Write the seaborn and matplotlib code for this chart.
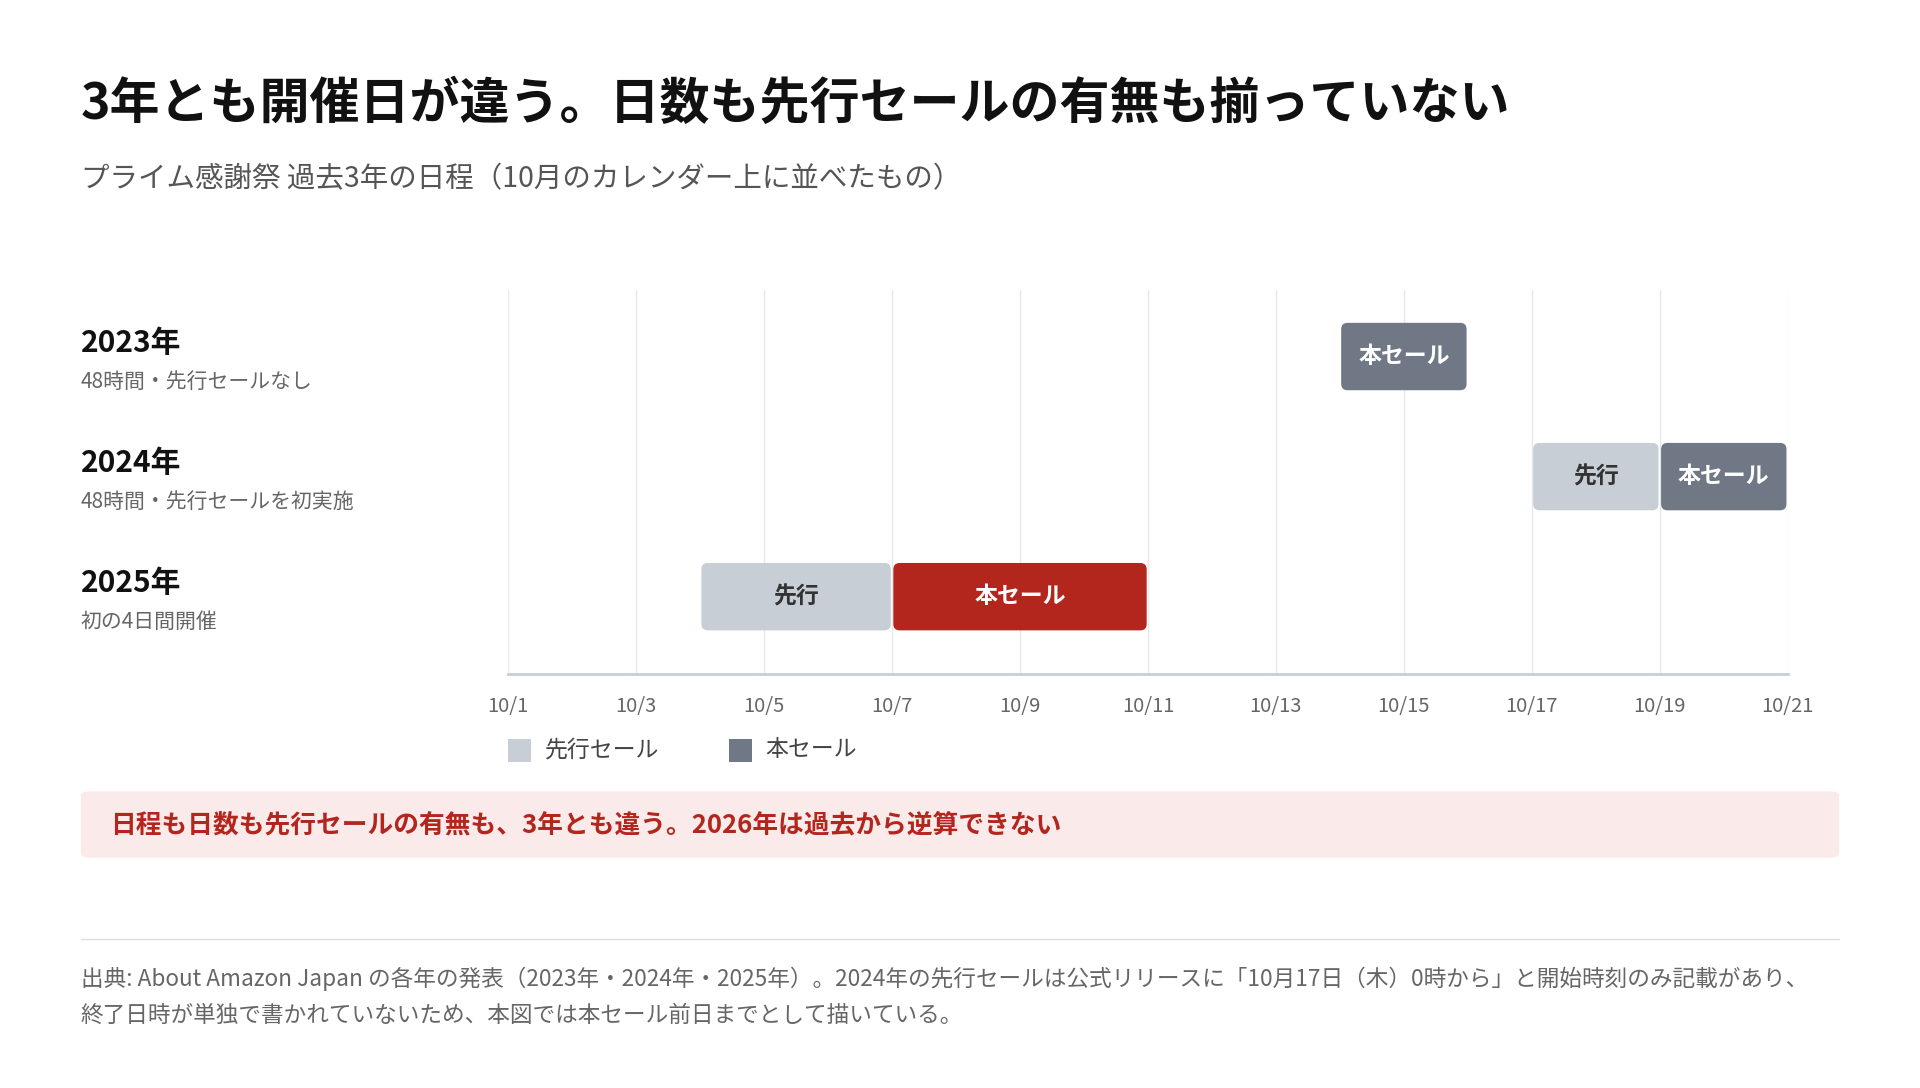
import matplotlib
matplotlib.use("Agg")
import matplotlib.pyplot as plt
import seaborn as sns
from matplotlib.patches import FancyBboxPatch, Rectangle

sns.set_theme(style="white")
plt.rcParams['font.family'] = ['Noto Sans CJK JP', 'DejaVu Sans']

years = ["2023年", "2024年", "2025年"]
notes = ["48時間・先行セールなし", "48時間・先行セールを初実施", "初の4日間開催"]
pre_start = [None, 17, 4]
pre_end = [None, 19, 7]
main_start = [14, 19, 7]
main_end = [16, 21, 11]
tick_days = list(range(1, 22, 2))
tick_labels = [f"10/{d}" for d in tick_days]

W, H = 1568, 888
def fx(x): return x / W
def fy(y): return 1 - y / H

fig = plt.figure(figsize=(19.2, 10.88), dpi=100)
fig.patch.set_facecolor("white")
ax = fig.add_axes([fx(415), fy(550), fx(1460) - fx(415), fy(237) - fy(550)])
ax.set_xlim(1, 21)
ax.set_ylim(2.643, -0.551)
for d in tick_days:
    ax.axvline(d, color="#e8e8e8", lw=1, zorder=0)
for s in ["top", "right", "left"]:
    ax.spines[s].set_visible(False)
ax.spines["bottom"].set_color("#c8ced6")
ax.spines["bottom"].set_linewidth(2)
ax.set_yticks([])
ax.set_xticks(tick_days)
ax.set_xticklabels(tick_labels, color="#666666", fontsize=14.5)
ax.tick_params(axis="x", length=0, pad=16)

PRE = "#c8ced6"
h = 55 / 98
asp = 52.25 / 98
def bar(x0, x1, y, color, label, tcolor):
    p = FancyBboxPatch((x0 + 0.02, y - h / 2), x1 - x0 - 0.04, h,
                       boxstyle="round,pad=0,rounding_size=0.1",
                       mutation_aspect=asp, fc=color, ec="none", zorder=3)
    ax.add_patch(p)
    ax.text((x0 + x1) / 2, y, label, ha="center", va="center", color=tcolor,
            fontsize=16.5, fontweight="bold", zorder=4)

for i in range(3):
    if pre_start[i] is not None:
        bar(pre_start[i], pre_end[i], i, PRE, "先行", "#333333")
    mc = "#b3261e" if i == 2 else "#6f7884"
    bar(main_start[i], main_end[i], i, mc, "本セール", "white")

row_y = [291, 389, 487]
for i in range(3):
    fig.text(fx(66), fy(row_y[i] - 11), years[i], fontsize=21.5, fontweight="bold",
             color="#111111", va="center")
    fig.text(fx(66), fy(row_y[i] + 21), notes[i], fontsize=15, color="#666666", va="center")

fig.text(fx(66), fy(85), "3年とも開催日が違う。日数も先行セールの有無も揃っていない",
         fontsize=36, fontweight="bold", color="#111111", va="center")
fig.text(fx(66), fy(146), "プライム感謝祭 過去3年の日程（10月のカレンダー上に並べたもの）",
         fontsize=20.5, color="#555555", va="center")

for xs, c, t in [(415, PRE, "先行セール"), (595, "#6f7884", "本セール")]:
    fig.patches.append(Rectangle((fx(xs), fy(622)), fx(19), 19 / H, transform=fig.transFigure,
                                 fc=c, ec="none"))
    fig.text(fx(xs + 30), fy(612), t, fontsize=16.5, color="#444444", va="center")

fig.patches.append(FancyBboxPatch((fx(66), fy(700)), fx(1502 - 66), 54 / H,
                                  boxstyle="round,pad=0,rounding_size=0.004",
                                  transform=fig.transFigure, fc="#fbeaea", ec="none"))
fig.text(fx(90), fy(673), "日程も日数も先行セールの有無も、3年とも違う。2026年は過去から逆算できない",
         fontsize=18.5, fontweight="bold", color="#b3261e", va="center")

fig.add_artist(plt.Line2D([fx(66), fx(1502)], [fy(766), fy(766)], color="#dddddd", lw=1))
fig.text(fx(66), fy(799), "出典: About Amazon Japan の各年の発表（2023年・2024年・2025年）。2024年の先行セールは公式リリースに「10月17日（木）0時から」と開始時刻のみ記載があり、",
         fontsize=16.3, color="#666666", va="center")
fig.text(fx(66), fy(829), "終了日時が単独で書かれていないため、本図では本セール前日までとして描いている。",
         fontsize=16.3, color="#666666", va="center")

fig.savefig("out.png", dpi=100, facecolor="white")
